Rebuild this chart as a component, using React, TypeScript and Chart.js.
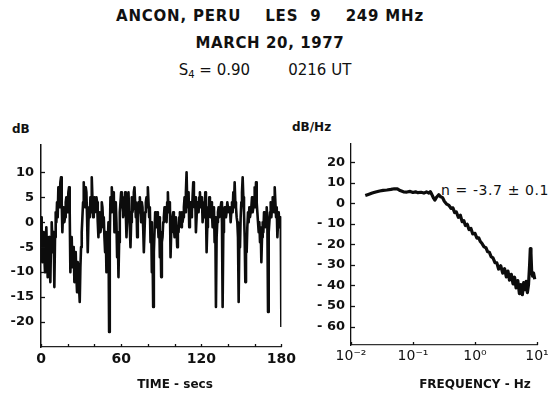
import React, { useEffect, useRef } from "react";
import { Chart, registerables } from "chart.js";

Chart.register(...registerables);

// Scintillation record: signal level (dB), one sample every half second, 0–180 s
const sampleStepSecs = 0.5;
const amplitudeDb = [
  1, -4, -8, -3, -2, -7, -10, -4, -1, -6, -11, -5, -3, -9, -12, -4, 0, -3, -6, -2,
  -13, -3, 2, 0, 4, 1, 7, 3, 5, 8, 9, 4, -2, 2, 3, 0, 1, 4, 5, 2,
  3, 6, 7, 2, -10, -4, -3, -9, -8, -5, -12, -7, -6, -11, -14, -8, -9, -13, -16, -9,
  -5, -2, 1, 4, 8, 4, 3, 7, 6, 1, -6, 0, 3, 1, 5, 2, 9, 5, 1, 3,
  5, 2, 2, 5, 4, 0, -3, 1, 2, -2, -1, 4, 3, 0, 1, -3, -6, -2, -10, -5,
  -4, 0, -22, -3, 5, 2, 7, 4, 3, 6, -2, 1, 4, 0, -7, -2, -11, -4, 2, 4,
  6, 3, 5, 1, 1, 4, 6, 2, -3, 1, 4, 6, 2, -1, -5, 0, 5, 2, 3, 6,
  7, 4, 1, 3, -3, 1, 4, 2, 5, 3, 0, 4, 3, -1, -6, -2, 2, 4, 5, 3,
  7, 4, 1, 3, -4, 0, -10, -5, -17, -6, -2, 2, 1, -1, 2, 0, -3, 1, -7, -2,
  -11, -4, -3, 0, 1, 3, 3, 1, 0, 4, 6, 2, 2, 4, -7, -2, -1, 1, 2, -1,
  -3, 0, 1, -2, -5, -1, -2, 1, 2, 0, -1, 2, 0, 1, 3, 5, 2, 6, 10, 4,
  3, 6, -1, 2, 4, 1, 2, 5, 8, 4, 3, 5, -2, 1, 4, 2, 2, 5, 6, 3,
  3, 5, 0, 2, 4, 1, 6, 3, -6, -1, 3, 1, 5, 2, 1, 4, 2, -1, 0, 3,
  -4, 1, -17, -3, 0, 2, 3, 1, 1, 3, 4, 0, -17, -2, 1, 3, 3, 1, 2, 4,
  4, 2, 2, 3, 0, 2, 4, 2, 6, 3, 8, 4, 3, 1, 0, -3, -16, -4, -5, 1,
  4, 6, 9, 5, 2, -3, -12, -5, -6, -1, 2, 0, 3, 1, 1, 3, 5, 2, 3, 5,
  7, 3, 8, 4, 2, 0, -2, 0, -4, -1, -8, -3, 0, -2, 2, 0, -1, 1, 3, 0,
  -18, -2, 0, 2, 4, 1, 3, 5, 5, 2, 7, 4, 1, 3, -3, 0, 2, -1, -1, 1,
  -21,
];
const timeTicks = [0, 20, 40, 60, 80, 100, 120, 140, 160, 180];
const timeLabelEvery = 60;
const amplitudeTicks = [10, 5, 0, -5, -10, -15, -20];

// Power spectrum of the same record
const freqHz = [
  0.017, 0.019, 0.022, 0.025, 0.029, 0.033, 0.038, 0.044, 0.05, 0.056,
  0.062, 0.07, 0.08, 0.09, 0.1, 0.11, 0.12, 0.135, 0.15, 0.165,
  0.18, 0.19, 0.2, 0.215, 0.225, 0.24, 0.26, 0.28, 0.3, 0.32,
  0.35, 0.38, 0.41, 0.44, 0.47, 0.5, 0.54, 0.58, 0.62, 0.66,
  0.7, 0.75, 0.8, 0.86, 0.92, 1.0, 1.07, 1.15, 1.22, 1.3,
  1.4, 1.5, 1.6, 1.7, 1.82, 1.95, 2.1, 2.25, 2.4, 2.6,
  2.8, 3.0, 3.2, 3.4, 3.6, 3.85, 4.1, 4.35, 4.6, 4.9,
  5.2, 5.5, 5.8, 6.1, 6.4, 6.7, 7.0, 7.3, 7.6, 7.8,
  8.0, 8.2, 8.5, 8.8, 9.2,
];
const psdDb = [
  3.8, 4.3, 5.0, 5.5, 6.0, 6.3, 6.5, 6.8, 7.1, 7.0,
  6.2, 5.6, 5.5, 5.8, 5.3, 5.6, 5.2, 5.4, 5.0, 5.6,
  5.0, 5.7, 4.5, 2.5, 1.6, 3.0, 4.2, 3.2, 2.8, 1.0,
  -0.4, -1.0, -2.5, -2.2, -4.5, -4.2, -6.8, -5.8, -8.9, -8.4,
  -10.8, -10.2, -12.8, -12.2, -14.9, -14.6, -16.9, -16.8, -18.6, -19.6,
  -21.2, -21.6, -23.6, -23.8, -26.0, -26.6, -28.9, -29.0, -32.0, -30.4,
  -34.0, -31.8, -35.8, -33.0, -37.4, -34.6, -39.2, -36.0, -41.2, -37.6,
  -44.0, -39.6, -44.5, -38.6, -42.0, -38.0, -43.5, -39.5, -30.0, -22.0,
  -24.5, -33.0, -35.5, -34.0, -37.0,
];
const freqTicks = [0.01, 0.1, 1, 10];
const freqTickLabels = ["10\u207B\u00B2", "10\u207B\u00B9", "10\u2070", "10\u00B9"];
const psdTicks = [20, 10, 0, -10, -20, -30, -40, -50, -60];

const FONT = "'DejaVu Sans', sans-serif";

// Short tick marks drawn on the inner side of both axes
const insideTicks = {
  id: "insideTicks",
  afterDraw(chart: any) {
    const { ctx, chartArea, scales } = chart;
    ctx.save();
    ctx.strokeStyle = "#111";
    ctx.lineWidth = 1.3;
    scales.y.ticks.forEach((t: any) => {
      const py = Math.round(scales.y.getPixelForValue(t.value)) + 0.5;
      ctx.beginPath();
      ctx.moveTo(chartArea.left, py);
      ctx.lineTo(chartArea.left + 4, py);
      ctx.stroke();
    });
    scales.x.ticks.forEach((t: any) => {
      const px = Math.round(scales.x.getPixelForValue(t.value)) + 0.5;
      ctx.beginPath();
      ctx.moveTo(px, chartArea.bottom);
      ctx.lineTo(px, chartArea.bottom - 3);
      ctx.stroke();
    });
    ctx.restore();
  },
};

function TimeSeries() {
  const ref = useRef<HTMLCanvasElement | null>(null);
  useEffect(() => {
    if (!ref.current) return;
    const points = amplitudeDb.map((v, i) => ({ x: i * sampleStepSecs, y: v }));
    const chart = new Chart(ref.current, {
      type: "line",
      data: {
        datasets: [
          {
            data: points,
            borderColor: "#0c0c0c",
            borderWidth: 2.6,
            borderJoinStyle: "round",
            pointRadius: 0,
            tension: 0,
          },
        ],
      },
      options: {
        animation: false,
        responsive: false,
        events: [],
        layout: { padding: { top: 10, right: 18, left: 0, bottom: 0 } },
        plugins: { legend: { display: false }, tooltip: { enabled: false } },
        scales: {
          x: {
            type: "linear",
            min: 0,
            max: 180,
            afterBuildTicks: (s: any) => {
              s.ticks = timeTicks.map((v) => ({ value: v }));
            },
            afterFit: (s: any) => {
              s.height = 53;
            },
            ticks: {
              autoSkip: false,
              maxRotation: 0,
              padding: 4,
              color: "#111",
              font: { family: FONT, size: 14, weight: "bold" },
              callback: (v: any) => (Number(v) % timeLabelEvery === 0 ? String(v) : ""),
            },
            grid: { display: true, drawOnChartArea: false, drawTicks: false },
            border: { display: true, color: "#222", width: 1.3, dash: [10, 3] },
          },
          y: {
            type: "linear",
            min: -25,
            max: 15.5,
            afterBuildTicks: (s: any) => {
              s.ticks = amplitudeTicks.map((v) => ({ value: v }));
            },
            afterFit: (s: any) => {
              s.width = 41;
            },
            ticks: {
              padding: 7,
              color: "#111",
              font: { family: FONT, size: 13, weight: "bold" },
              callback: (v: any) => (Number(v) < 0 ? "-" + Math.abs(Number(v)) : String(v)),
            },
            grid: { display: true, drawOnChartArea: false, drawTicks: false },
            border: { display: true, color: "#111", width: 1.5 },
          },
        },
      },
      plugins: [insideTicks],
    });
    return () => chart.destroy();
  }, []);
  return (
    <canvas
      ref={ref}
      width={300}
      height={270}
      style={{ position: "absolute", left: 0, top: 130, width: 300, height: 270 }}
    />
  );
}

function Spectrum() {
  const ref = useRef<HTMLCanvasElement | null>(null);
  useEffect(() => {
    if (!ref.current) return;
    const points = freqHz.map((f, i) => ({ x: f, y: psdDb[i] }));
    const chart = new Chart(ref.current, {
      type: "line",
      data: {
        datasets: [
          {
            data: points,
            borderColor: "#0c0c0c",
            borderWidth: 3.2,
            borderJoinStyle: "round",
            pointRadius: 0,
            tension: 0,
          },
        ],
      },
      options: {
        animation: false,
        responsive: false,
        events: [],
        layout: { padding: { top: 12, right: 19, left: 0, bottom: 0 } },
        plugins: { legend: { display: false }, tooltip: { enabled: false } },
        scales: {
          x: {
            type: "logarithmic",
            min: 0.01,
            max: 10,
            afterBuildTicks: (s: any) => {
              s.ticks = freqTicks.map((v) => ({ value: v }));
            },
            afterFit: (s: any) => {
              s.height = 55;
            },
            ticks: {
              autoSkip: false,
              maxRotation: 0,
              padding: 3,
              color: "#111",
              font: { family: FONT, size: 14 },
              callback: (_v: any, i: number) => freqTickLabels[i],
            },
            grid: { display: true, drawOnChartArea: false, drawTicks: false },
            border: { display: true, color: "#333", width: 1.2, dash: [9, 4] },
          },
          y: {
            type: "linear",
            min: -69,
            max: 29,
            afterBuildTicks: (s: any) => {
              s.ticks = psdTicks.map((v) => ({ value: v }));
            },
            afterFit: (s: any) => {
              s.width = 61;
            },
            ticks: {
              padding: 6,
              color: "#111",
              font: { family: FONT, size: 13, weight: "bold" },
              callback: (v: any) => (Number(v) < 0 ? "- " + Math.abs(Number(v)) : String(v)),
            },
            grid: { display: true, drawOnChartArea: false, drawTicks: false },
            border: { display: true, color: "#111", width: 1.3 },
          },
        },
      },
      plugins: [insideTicks],
    });
    return () => chart.destroy();
  }, []);
  return (
    <canvas
      ref={ref}
      width={266}
      height={270}
      style={{ position: "absolute", left: 290, top: 130, width: 266, height: 270 }}
    />
  );
}

const textBase: React.CSSProperties = {
  position: "absolute",
  fontFamily: FONT,
  color: "#111",
  whiteSpace: "pre",
  lineHeight: 1,
};

export default function App() {
  return (
    <div
      style={{
        position: "fixed",
        left: 0,
        top: 0,
        width: 556,
        height: 399,
        background: "#fff",
        overflow: "hidden",
      }}
    >
      <div
        style={{
          ...textBase,
          left: 0,
          width: 540,
          top: 9,
          textAlign: "center",
          fontSize: 15,
          fontWeight: "bold",
          letterSpacing: 0.8,
        }}
      >
        {"ANCON, PERU    LES  9    249 MHz"}
      </div>
      <div
        style={{
          ...textBase,
          left: 0,
          width: 540,
          top: 36,
          textAlign: "center",
          fontSize: 15,
          fontWeight: "bold",
          letterSpacing: 0.6,
        }}
      >
        {"MARCH 20, 1977"}
      </div>
      <div style={{ ...textBase, left: 0, width: 530, top: 63, textAlign: "center", fontSize: 15 }}>
        <span>
          S<sub style={{ fontSize: 10, verticalAlign: "-3px" }}>4</sub>
          {" = 0.90        0216 UT"}
        </span>
      </div>
      <div style={{ ...textBase, left: 12, top: 123, fontSize: 12, fontWeight: "bold" }}>dB</div>
      <div style={{ ...textBase, left: 292, top: 121, fontSize: 12, fontWeight: "bold" }}>dB/Hz</div>
      <div style={{ ...textBase, left: 441, top: 183, fontSize: 14, letterSpacing: 0.6 }}>
        {"n = -3.7 \u00B1 0.1"}
      </div>
      <TimeSeries />
      <Spectrum />
      <div
        style={{
          ...textBase,
          left: 80,
          width: 190,
          top: 378,
          textAlign: "center",
          fontSize: 12,
          fontWeight: "bold",
        }}
      >
        {"TIME - secs"}
      </div>
      <div
        style={{
          ...textBase,
          left: 400,
          width: 150,
          top: 378,
          textAlign: "center",
          fontSize: 12,
          fontWeight: "bold",
        }}
      >
        {"FREQUENCY - Hz"}
      </div>
    </div>
  );
}
